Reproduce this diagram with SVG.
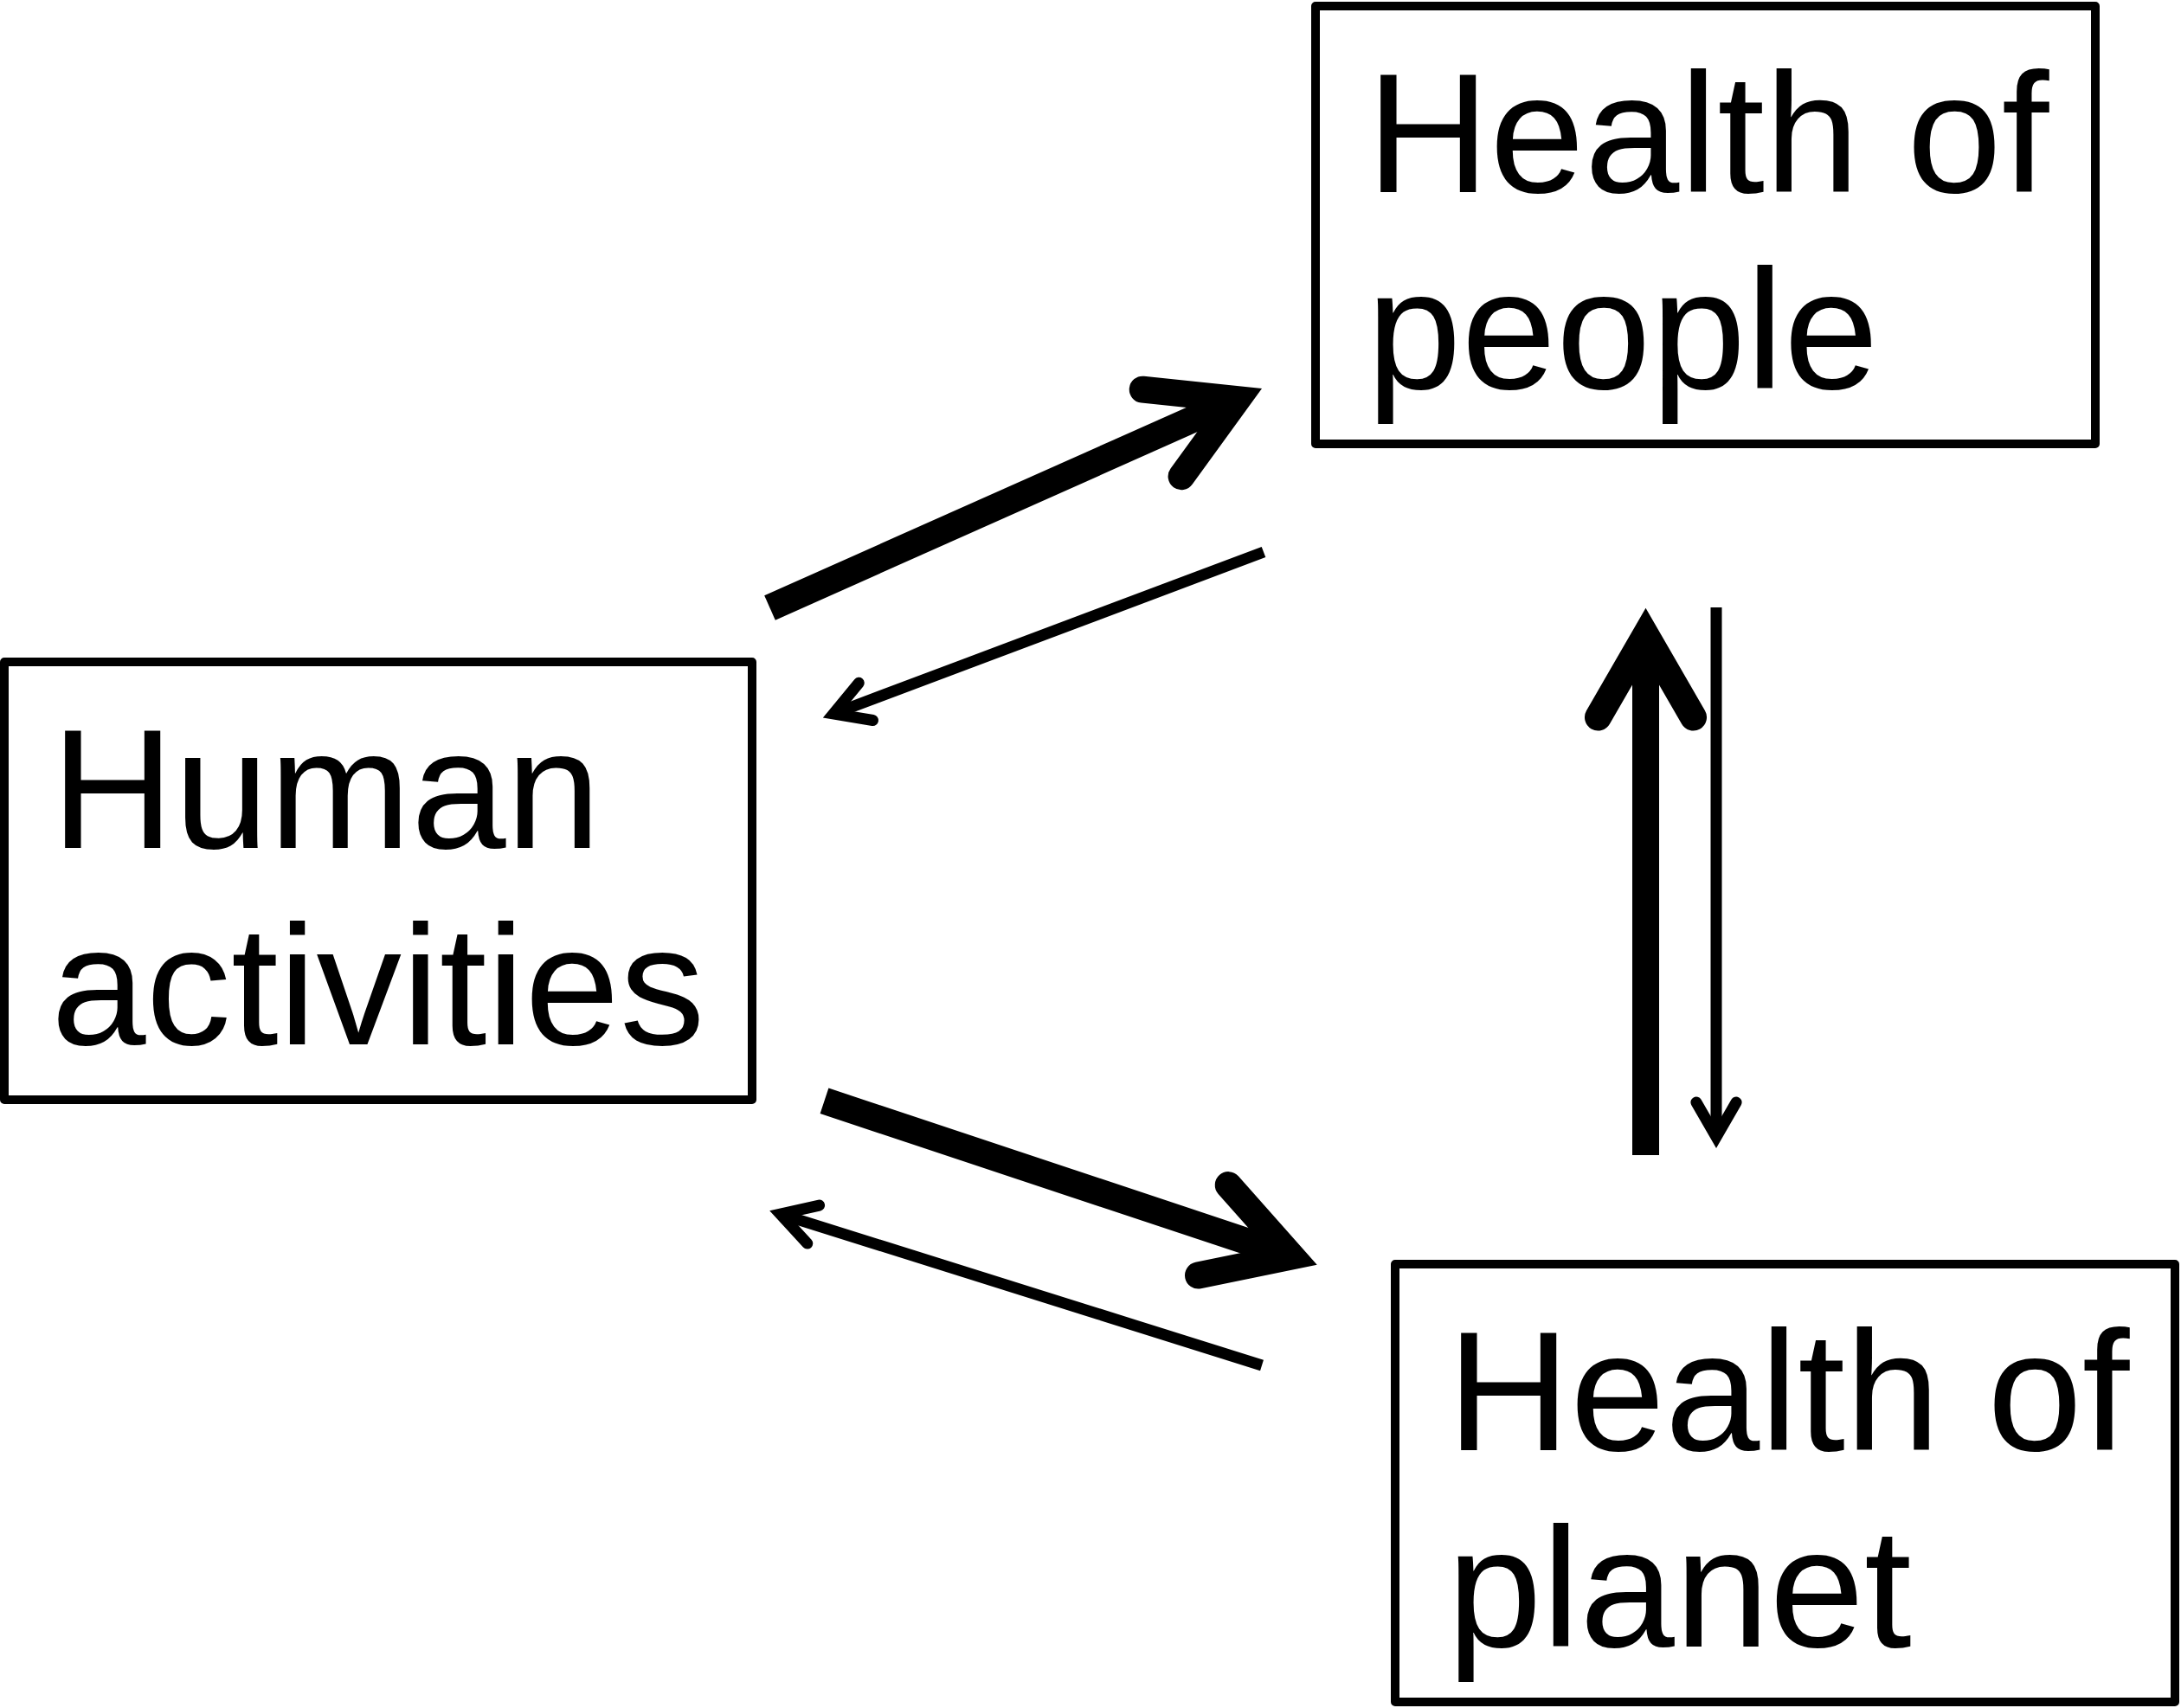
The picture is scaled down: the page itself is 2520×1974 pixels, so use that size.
<svg xmlns="http://www.w3.org/2000/svg" width="2520" height="1974" viewBox="0 0 2520 1974">
  <style>
    .box { fill: #ffffff; stroke: #000000; stroke-width: 10; stroke-linejoin: round; }
    .lbl { font-family: "Liberation Sans", Arial, sans-serif; font-size: 197px; fill: #000000; }
    .thick { fill: none; stroke: #000000; stroke-width: 31; stroke-linecap: butt; marker-end: url(#head); }
    .thin { fill: none; stroke: #000000; stroke-width: 13; stroke-linecap: butt; marker-end: url(#head); }
  </style>
  <defs>
    <marker id="head" markerUnits="strokeWidth" orient="auto" refX="0" refY="0" markerWidth="10" markerHeight="10" viewBox="-6 -5 10 10" overflow="visible">
      <path d="M -3.074 -1.775 L 0 0 L -3.074 1.775" fill="none" stroke="#000000" stroke-width="1" stroke-linecap="round" stroke-linejoin="miter" stroke-miterlimit="10"/>
    </marker>
  </defs>
  <rect width="2520" height="1974" fill="#ffffff"/>
  <g id="connectors">
    <line class="thick" x1="889.5" y1="702.5" x2="1429.7" y2="461.6"/>
    <line class="thin" x1="1460" y1="638" x2="963" y2="825"/>
    <line class="thick" x1="952.5" y1="1272.3" x2="1492.3" y2="1451.9"/>
    <line class="thin" x1="1458" y1="1578" x2="901.6" y2="1403.1"/>
    <line class="thick" x1="1901.5" y1="1335" x2="1901.5" y2="733.7"/>
    <line class="thin" x1="1983" y1="702" x2="1983" y2="1314"/>
  </g>
  <g id="node-health-people">
    <rect class="box" x="1520" y="7" width="901" height="506"/>
    <text class="lbl" x="1579" y="222">Health of</text>
    <text class="lbl" x="1579" y="449">people</text>
  </g>
  <g id="node-human-activities">
    <rect class="box" x="5" y="765" width="864" height="506"/>
    <text class="lbl" x="59" y="980">Human</text>
    <text class="lbl" x="59" y="1207">activities</text>
  </g>
  <g id="node-health-planet">
    <rect class="box" x="1612" y="1461" width="901" height="506"/>
    <text class="lbl" x="1672" y="1676">Health of</text>
    <text class="lbl" x="1672" y="1903">planet</text>
  </g>
</svg>
